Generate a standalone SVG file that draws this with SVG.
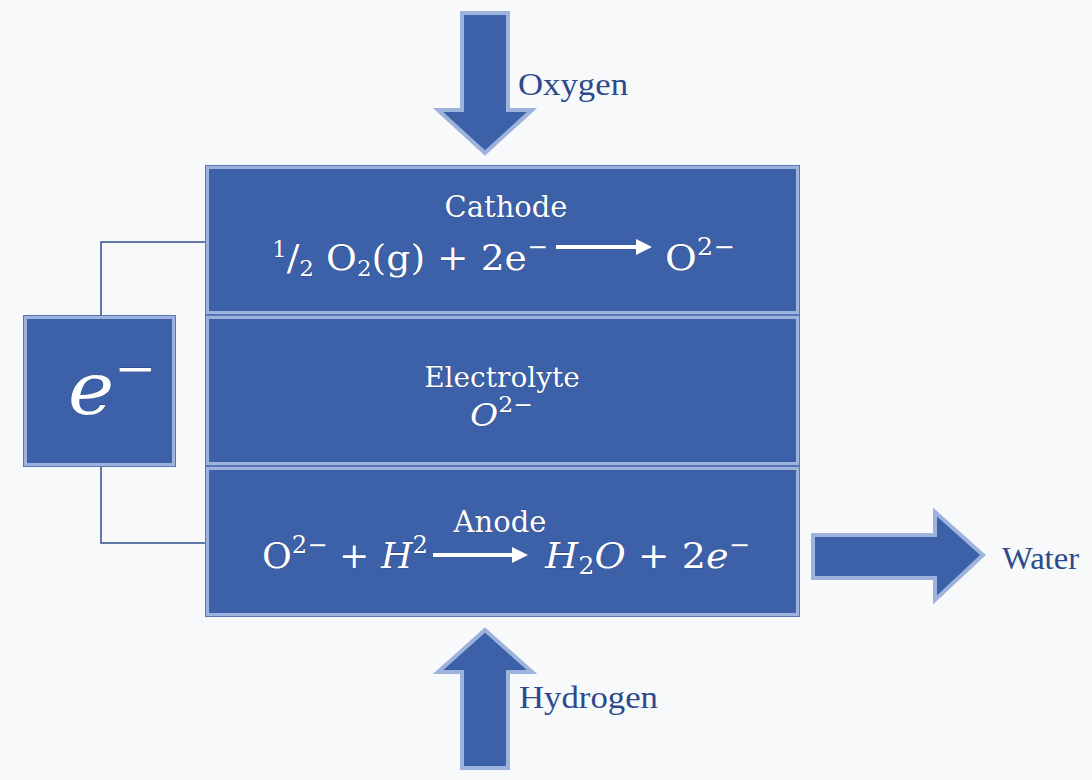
<svg xmlns="http://www.w3.org/2000/svg" width="1092" height="780" viewBox="0 0 1092 780">
<style>
.panel{fill:#3d61a8;stroke:#9db2dd;stroke-width:4}
.edge{fill:none;stroke:#5676b6;stroke-width:1}
.bigarrow{fill:#3d61a8;stroke:#9db2dd;stroke-width:4;stroke-linejoin:miter}
.wt{fill:#ffffff;font-family:"DejaVu Serif",Cambria,serif;stroke:#24407a;stroke-width:0.7;paint-order:stroke}
.lbl{fill:#2c4a8c;font-family:"Liberation Serif","Times New Roman",serif;font-size:32px}
.wire{fill:none;stroke:#2f4f8f;stroke-width:1.5}
.eqarrow{stroke:#ffffff;stroke-width:4;fill:none}
</style>
<rect x="0" y="0" width="1092" height="780" fill="#f8f9fb"/>

<g id="connectors">
  <path class="wire" d="M205,242 H101 V315"/>
  <path class="wire" d="M101,467 V543 H205"/>
</g>

<g id="oxygen">
  <polygon class="bigarrow" points="462,13 508,13 508,110 532,110 485,153 438,110 462,110"/>
  <text class="lbl" x="518" y="95" textLength="110" lengthAdjust="spacingAndGlyphs">Oxygen</text>
</g>

<g id="cathode">
  <rect class="panel" x="207" y="167" width="591" height="146"/>
  <rect class="edge" x="205.5" y="165.5" width="594" height="149"/>
  <text class="wt" x="506" y="217" font-size="29" text-anchor="middle">Cathode</text>
  <text class="wt" x="272" y="270" font-size="36" textLength="276" lengthAdjust="spacingAndGlyphs"><tspan font-size="22" dy="-13">1</tspan><tspan dy="13">/</tspan><tspan font-size="22" dy="6">2</tspan><tspan dy="-6"> O</tspan><tspan font-size="22" dy="6">2</tspan><tspan dy="-6">(g) + 2e</tspan><tspan font-size="24" dy="-15">−</tspan></text>
  <path class="eqarrow" d="M556,247 H638"/>
  <polygon points="636,239 652,247 636,255" fill="#ffffff"/>
  <text class="wt" x="665" y="270" font-size="36" textLength="70" lengthAdjust="spacingAndGlyphs">O<tspan font-size="24" dy="-15">2−</tspan></text>
</g>

<g id="electrolyte">
  <rect class="panel" x="207" y="317" width="591" height="147"/>
  <rect class="edge" x="205.5" y="315.5" width="594" height="150"/>
  <text class="wt" x="502" y="387" font-size="28" text-anchor="middle">Electrolyte</text>
  <text class="wt" x="470" y="426" font-size="32" font-style="italic" textLength="63" lengthAdjust="spacingAndGlyphs">O<tspan font-style="normal" font-size="22" dy="-14">2−</tspan></text>
</g>

<g id="anode">
  <rect class="panel" x="207" y="468" width="591" height="147"/>
  <rect class="edge" x="205.5" y="466.5" width="594" height="150"/>
  <text class="wt" x="500" y="532" font-size="29" text-anchor="middle">Anode</text>
  <text class="wt" x="262" y="568" font-size="36" textLength="166" lengthAdjust="spacingAndGlyphs">O<tspan font-size="24" dy="-15">2−</tspan><tspan dy="15"> + </tspan><tspan font-style="italic">H</tspan><tspan font-size="24" dy="-15">2</tspan></text>
  <path class="eqarrow" d="M433,555 H514"/>
  <polygon points="512,547 528,555 512,563" fill="#ffffff"/>
  <text class="wt" x="545" y="568" font-size="36" textLength="205" lengthAdjust="spacingAndGlyphs"><tspan font-style="italic">H</tspan><tspan font-size="24" dy="6">2</tspan><tspan font-style="italic" dy="-6">O</tspan><tspan> + 2</tspan><tspan font-style="italic">e</tspan><tspan font-size="24" dy="-15">−</tspan></text>
</g>

<g id="electron">
  <rect class="panel" x="25" y="317" width="149" height="148"/>
  <rect class="edge" x="23.5" y="315.5" width="152" height="151"/>
  <text class="wt" x="68" y="414" font-size="72" font-style="italic" textLength="88" lengthAdjust="spacingAndGlyphs">e<tspan font-style="normal" font-size="46" dy="-30">−</tspan></text>
</g>

<g id="water">
  <polygon class="bigarrow" points="813,535 935,535 935,512 983,555 935,600 935,578 813,578"/>
  <text class="lbl" x="1002" y="569" textLength="77" lengthAdjust="spacingAndGlyphs">Water</text>
</g>

<g id="hydrogen">
  <polygon class="bigarrow" points="485,630 532,672 508,672 508,768 462,768 462,672 438,672"/>
  <text class="lbl" x="519" y="708" textLength="139" lengthAdjust="spacingAndGlyphs">Hydrogen</text>
</g>
</svg>
